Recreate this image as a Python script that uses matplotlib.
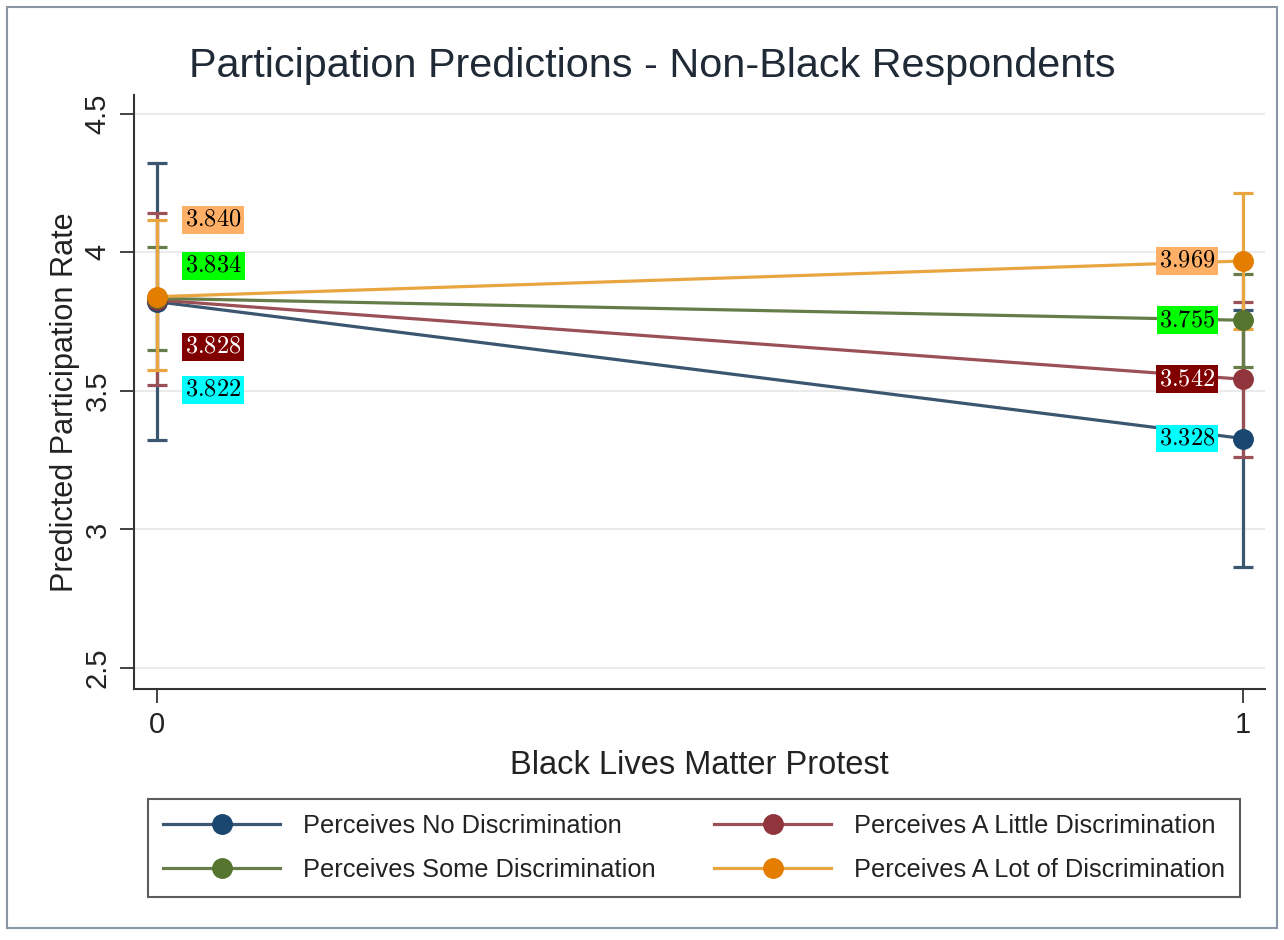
import matplotlib
matplotlib.use("Agg")
import matplotlib.pyplot as plt
from matplotlib.patches import Rectangle
from matplotlib.lines import Line2D

# ---------------- data ----------------
x_vals = [0, 1]
x_ticklabels = ["0", "1"]
y_ticks = [2.5, 3, 3.5, 4, 4.5]
y_ticklabels = ["2.5", "3", "3.5", "4", "4.5"]

series_names = ["Perceives No Discrimination", "Perceives A Little Discrimination",
                "Perceives Some Discrimination", "Perceives A Lot of Discrimination"]
no_disc = [3.822, 3.328]
no_disc_lo = [3.322, 2.865]
no_disc_hi = [4.323, 3.791]
little_disc = [3.828, 3.542]
little_disc_lo = [3.522, 3.262]
little_disc_hi = [4.143, 3.822]
some_disc = [3.834, 3.755]
some_disc_lo = [3.648, 3.587]
some_disc_hi = [4.020, 3.923]
lot_disc = [3.840, 3.969]
lot_disc_lo = [3.576, 3.723]
lot_disc_hi = [4.117, 4.215]

title = "Participation Predictions - Non-Black Respondents"
xlabel = "Black Lives Matter Protest"
ylabel = "Predicted Participation Rate"

# ---------------- style ----------------
fonts = ["Liberation Sans", "DejaVu Sans"]
plt.rcParams["font.family"] = fonts
plt.rcParams["mathtext.fontset"] = "cm"

marker_colors = ["#1a476f", "#90353b", "#55752f", "#e37e00"]
line_colors = ["#3b5670", "#9a5056", "#667d4a", "#e9a540"]
label_bg = ["#00ffff", "#800000", "#00ff00", "#ffb066"]
label_fg = ["black", "white", "black", "black"]
# left label vertical positions (annotation placement)
left_label_y = [3.504, 3.659, 3.951, 4.117]

fig = plt.figure(figsize=(12.84, 9.40), dpi=100)
fig.patch.set_facecolor("white")
ax = fig.add_axes([134 / 1284, 1 - 689 / 940, (1265 - 134) / 1284, (689 - 95) / 940])

means = [no_disc, little_disc, some_disc, lot_disc]
los = [no_disc_lo, little_disc_lo, some_disc_lo, lot_disc_lo]
his = [no_disc_hi, little_disc_hi, some_disc_hi, lot_disc_hi]

for i in range(4):
    m, lo, hi = means[i], los[i], his[i]
    err = [[m[k] - lo[k] for k in range(2)], [hi[k] - m[k] for k in range(2)]]
    ax.errorbar(x_vals, m, yerr=err, fmt="none", ecolor=line_colors[i],
                elinewidth=2.3, capsize=7, capthick=2.3, zorder=2 + i * 0.1)
for i in range(4):
    ax.plot(x_vals, means[i], color=line_colors[i], lw=2.3, zorder=3 + i * 0.1)
for i in range(4):
    ax.plot(x_vals, means[i], ls="none", marker="o", ms=14, color=marker_colors[i],
            mec=marker_colors[i], zorder=4 + i * 0.1)

# value labels
for i in range(4):
    ax.text(0.026, left_label_y[i], r"$%.3f$" % means[i][0], ha="left", va="center",
            fontsize=17.5, color=label_fg[i], zorder=6,
            bbox=dict(boxstyle="square,pad=0.12", fc=label_bg[i], ec="none"))
    ax.annotate(r"$%.3f$" % means[i][1], xy=(1, means[i][1]), xytext=(-20, 0),
                textcoords="offset points", ha="right", va="center",
                fontsize=17.5, color=label_fg[i], zorder=6,
                bbox=dict(boxstyle="square,pad=0.12", fc=label_bg[i], ec="none"))

ax.set_xlim(-0.021, 1.020)
ax.set_ylim(2.424, 4.568)
ax.set_xticks(x_vals)
ax.set_xticklabels(x_ticklabels, fontsize=21, color="#222222")
ax.set_yticks(y_ticks)
ax.set_yticklabels(y_ticklabels, fontsize=21, color="#222222", rotation=90, va="center")
ax.tick_params(axis="both", length=10, width=1.3, color="#333333", direction="out", pad=6)
ax.grid(axis="y", color="#ebebeb", lw=1.5)
ax.set_axisbelow(True)
for s in ["top", "right"]:
    ax.spines[s].set_visible(False)
for s in ["left", "bottom"]:
    ax.spines[s].set_color("#333333")
    ax.spines[s].set_linewidth(1.5)

ax.set_xlabel(xlabel, fontsize=23.5, color="#222222", labelpad=8)
ax.set_ylabel(ylabel, fontsize=22.1, color="#222222")
ax.yaxis.set_label_coords(-0.048, 0.483)
fig.text(652 / 1284, 1 - 66 / 940, title, fontsize=29.8,
         color="#1f2a36", ha="center", va="center")

handles = [Line2D([0], [0], color=line_colors[i], lw=2.3, marker="o", ms=14,
                  mfc=marker_colors[i], mec=marker_colors[i]) for i in range(4)]
order = [0, 2, 1, 3]
leg = fig.legend([handles[k] for k in order], [series_names[k] for k in order],
                 ncol=2, loc="center", bbox_to_anchor=(694 / 1284, 1 - 848 / 940),
                 fontsize=18.3, frameon=True, fancybox=False, edgecolor="#333333",
                 handlelength=4.6, columnspacing=2.3, handletextpad=0.9,
                 borderpad=0.6, labelspacing=0.8)
leg.get_frame().set_linewidth(1.5)
for t in leg.get_texts():
    t.set_color("#222222")

fig.patches.append(Rectangle((7 / 1284, 12 / 940), 1 - 14 / 1284, 1 - 19 / 940,
                             transform=fig.transFigure, fill=False,
                             ec="#8a96a3", lw=1.5))

fig.savefig("out.png", dpi=100)
